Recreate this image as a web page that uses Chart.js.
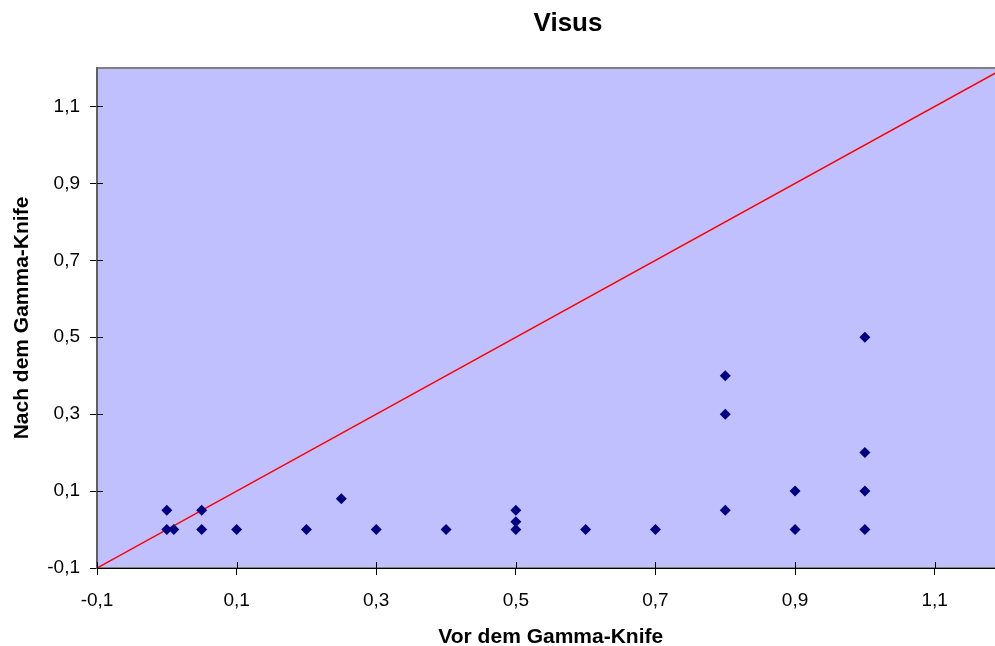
<!DOCTYPE html>
<html>
<head>
<meta charset="utf-8">
<script src="https://cdn.jsdelivr.net/npm/chart.js@4/dist/chart.umd.min.js"></script>
<style>
  html, body { margin: 0; padding: 0; background: #fff; overflow: hidden; }
  #wrap { position: relative; width: 1010px; height: 646px; }
</style>
</head>
<body>
<div id="wrap"><canvas id="c"></canvas></div>
<script>
// Data
const beforeValues = [0, 0, 0.01, 0.05, 0.05, 0.1, 0.2, 0.25, 0.3, 0.4, 0.5, 0.5, 0.5, 0.6, 0.7, 0.8, 0.8, 0.8, 0.9, 0.9, 1.0, 1.0, 1.0, 1.0];
const afterValues  = [0.05, 0, 0, 0.05, 0, 0, 0, 0.08, 0, 0, 0.05, 0.02, 0, 0, 0, 0.4, 0.3, 0.05, 0.1, 0, 0.5, 0.2, 0.1, 0];
const diagonalX = [-0.1, 1.2];
const diagonalY = [-0.1, 1.2];
const xTickValues = [-0.1, 0.1, 0.3, 0.5, 0.7, 0.9, 1.1];
const yTickValues = [-0.1, 0.1, 0.3, 0.5, 0.7, 0.9, 1.1];
const xTickLabels = ['-0,1', '0,1', '0,3', '0,5', '0,7', '0,9', '1,1'];
const yTickLabels = ['-0,1', '0,1', '0,3', '0,5', '0,7', '0,9', '1,1'];
const chartTitle = 'Visus';
const xTitle = 'Vor dem Gamma-Knife';
const yTitle = 'Nach dem Gamma-Knife';

const FONT = "'Liberation Sans', Arial, sans-serif";

const scatterData = beforeValues.map((v, i) => ({ x: v, y: afterValues[i] }));
const lineData = diagonalX.map((v, i) => ({ x: v, y: diagonalY[i] }));

function labelFor(values, labels) {
  return function (value) {
    const idx = values.findIndex(t => Math.abs(t - value) < 1e-9);
    return idx >= 0 ? labels[idx] : '';
  };
}

const bgPlugin = {
  id: 'plotBg',
  beforeDraw(chart) {
    const { ctx, chartArea: a } = chart;
    ctx.save();
    ctx.fillStyle = '#C0C0FF';
    ctx.fillRect(a.left, a.top, a.right - a.left, a.bottom - a.top);
    ctx.strokeStyle = '#808080';
    ctx.lineWidth = 2;
    ctx.strokeRect(a.left, a.top, a.right - a.left, a.bottom - a.top);
    ctx.restore();
  },
  afterDraw(chart) {
    const { ctx, chartArea: a } = chart;
    const xs = chart.scales.x, ys = chart.scales.y;
    ctx.save();
    ctx.strokeStyle = '#000';
    ctx.lineWidth = 1;
    ctx.beginPath();
    xTickValues.forEach(v => {
      const px = Math.round(xs.getPixelForValue(v)) + 0.5;
      ctx.moveTo(px, a.bottom - 6);
      ctx.lineTo(px, a.bottom);
    });
    yTickValues.forEach(v => {
      const py = Math.round(ys.getPixelForValue(v)) + 0.5;
      ctx.moveTo(a.left, py);
      ctx.lineTo(a.left + 6, py);
    });
    ctx.stroke();
    // title
    ctx.fillStyle = '#000';
    ctx.font = 'bold 26px ' + FONT;
    ctx.textAlign = 'center';
    ctx.textBaseline = 'middle';
    ctx.fillText(chartTitle, 568, 24);
    ctx.restore();
  }
};

new Chart(document.getElementById('c'), {
  data: {
    datasets: [
      {
        type: 'scatter',
        label: 'Visus',
        data: scatterData,
        pointStyle: 'rectRot',
        pointRadius: 5.5,
        pointHoverRadius: 5.5,
        backgroundColor: '#000080',
        borderColor: '#000080',
        borderWidth: 0,
        order: 1
      },
      {
        type: 'line',
        label: 'Diagonale',
        data: lineData,
        borderColor: '#FF0000',
        borderWidth: 1.5,
        pointRadius: 0,
        fill: false,
        order: 2
      }
    ]
  },
  plugins: [bgPlugin],
  options: {
    responsive: true,
    maintainAspectRatio: false,
    animation: false,
    layout: { padding: { top: 68, right: 3, left: 0, bottom: 0 } },
    plugins: {
      legend: { display: false },
      title: { display: false },
      tooltip: { enabled: false }
    },
    scales: {
      x: {
        type: 'linear',
        min: -0.1,
        max: 1.2,
        afterBuildTicks(scale) { scale.ticks = xTickValues.map(v => ({ value: v })); },
        afterFit(scale) { scale.height = 78; },
        grid: { display: true, drawOnChartArea: false, drawTicks: true, tickLength: 7, color: '#000', lineWidth: 1 },
        border: { display: true, color: '#000', width: 1 },
        ticks: {
          callback: labelFor(xTickValues, xTickLabels),
          color: '#000',
          font: { family: FONT, size: 19 },
          padding: 14,
          maxRotation: 0,
          autoSkip: false
        },
        title: {
          display: true,
          text: xTitle,
          color: '#000',
          font: { family: FONT, size: 21, weight: 'bold' },
          padding: { top: 0, bottom: -4 }
        }
      },
      y: {
        type: 'linear',
        min: -0.1,
        max: 1.2,
        afterBuildTicks(scale) { scale.ticks = yTickValues.map(v => ({ value: v })); },
        afterFit(scale) { scale.width = 97; },
        grid: { display: true, drawOnChartArea: false, drawTicks: true, tickLength: 7, color: '#000', lineWidth: 1 },
        border: { display: true, color: '#606060', width: 2 },
        ticks: {
          callback: labelFor(yTickValues, yTickLabels),
          color: '#000',
          font: { family: FONT, size: 19 },
          padding: 10,
          autoSkip: false
        },
        title: {
          display: true,
          text: yTitle,
          color: '#000',
          font: { family: FONT, size: 21, weight: 'bold' },
          padding: { top: 10, bottom: 0 }
        }
      }
    }
  }
});
</script>
</body>
</html>
